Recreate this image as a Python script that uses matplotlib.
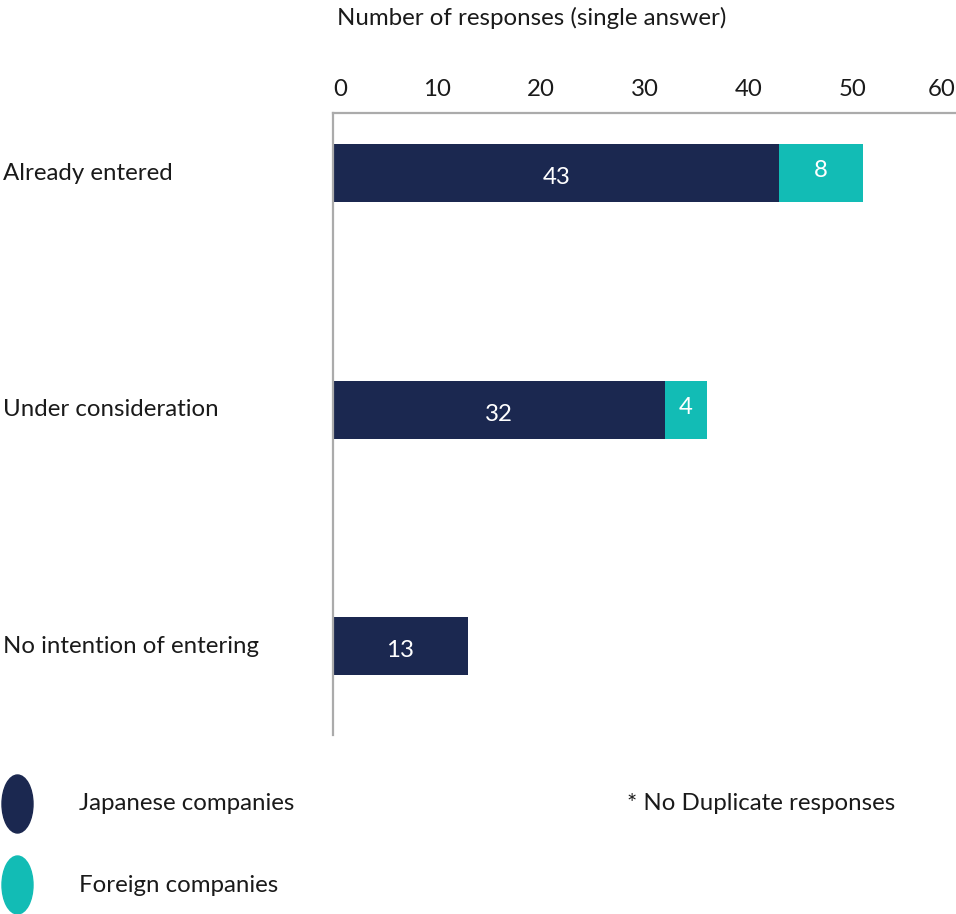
import matplotlib
matplotlib.use("Agg")
import matplotlib.pyplot as plt
import matplotlib.transforms as mtrans
from matplotlib.patches import Ellipse

# DATA
categories = ["Already entered", "Under consideration", "No intention of entering"]
japanese = [43, 32, 13]
foreign = [8, 4, 0]
series_names = ["Japanese companies", "Foreign companies"]
xticks = [0, 10, 20, 30, 40, 50, 60]

navy = "#1b2850"
teal = "#12bcb5"
grey = "#ababab"
text_col = "#1a1a1a"
fs = 17.3

plt.rcParams["font.family"] = ["Lato", "DejaVu Sans"]

W, H = 956, 914
fig = plt.figure(figsize=(W / 100, H / 100), dpi=100)
ax = fig.add_axes([333 / W, (H - 735) / H, 624 / W, 622 / H])

ypos = list(range(len(categories)))
bar_h = 0.245
ax.barh(ypos, japanese, height=bar_h, color=navy)
ax.barh(ypos, foreign, left=japanese, height=bar_h, color=teal)

# value labels in the bar segments
for y, j, f in zip(ypos, japanese, foreign):
    if j:
        ax.text(j / 2, y + 0.02, str(j), color="white", fontsize=fs, ha="center", va="center")
    if f:
        ax.text(j + f / 2, y - 0.01, str(f), color="white", fontsize=fs, ha="center", va="center")

ax.set_xlim(0, 60.1)
ax.set_ylim(2.376, -0.254)

# axis styling
for s in ["right", "bottom"]:
    ax.spines[s].set_visible(False)
for s in ["left", "top"]:
    ax.spines[s].set_color(grey)
    ax.spines[s].set_linewidth(1.6)
ax.xaxis.tick_top()
ax.set_xticks(xticks)
ax.set_xticklabels([str(t) for t in xticks])
ax.tick_params(axis="x", length=0, pad=9, labelsize=fs, labelcolor=text_col)
ax.set_yticks([])
labs = ax.get_xticklabels()
labs[0].set_ha("left")
labs[-1].set_ha("right")

# category labels, left aligned at the figure edge
trans = mtrans.blended_transform_factory(fig.transFigure, ax.transData)
for y, c in zip(ypos, categories):
    ax.text(3 / W, y, c, transform=trans, fontsize=fs, color=text_col,
            ha="left", va="center", clip_on=False)

fig.text(337 / W, 1 - 18 / H, "Number of responses (single answer)",
         fontsize=fs, color=text_col, ha="left", va="center")

# legend
leg_y = [804, 885]
for yy, col, name in zip(leg_y, [navy, teal], series_names):
    fig.patches.append(Ellipse((17.5 / W, 1 - yy / H), 31 / W, 58 / H,
                               transform=fig.transFigure, color=col))
    fig.text(79 / W, 1 - yy / H, name, fontsize=fs, color=text_col,
             ha="left", va="center")

fig.text(627 / W, 1 - 804 / H, "* No Duplicate responses", fontsize=fs,
         color=text_col, ha="left", va="center")

fig.savefig("out.png", dpi=100)
